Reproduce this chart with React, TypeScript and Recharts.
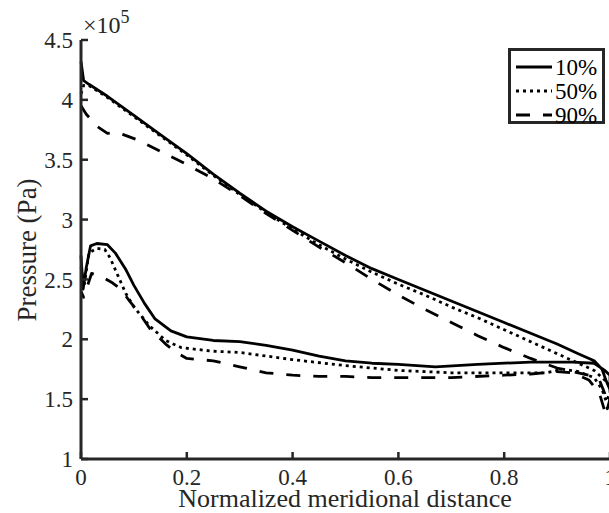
import React from 'react';
import { LineChart, Line, XAxis, YAxis } from 'recharts';

// x: normalized meridional distance, p: pressure (x10^5 Pa)
const xDomain = [0, 1];
const yDomain = [1, 4.5];
const xTicks = [0, 0.2, 0.4, 0.6, 0.8, 1];
const yTicks = [1, 1.5, 2, 2.5, 3, 3.5, 4, 4.5];
const seriesNames = ['10%', '50%', '90%'];

const upper10: [number, number][] = [
  [0, 4.32], [0.005, 4.16], [0.015, 4.13], [0.05, 4.03], [0.1, 3.87], [0.15, 3.71],
  [0.2, 3.55], [0.25, 3.38], [0.3, 3.22], [0.35, 3.07], [0.4, 2.94], [0.45, 2.82],
  [0.5, 2.7], [0.55, 2.59], [0.6, 2.5], [0.65, 2.41], [0.7, 2.32], [0.75, 2.23],
  [0.8, 2.14], [0.85, 2.05], [0.9, 1.96], [0.94, 1.88], [0.97, 1.82], [0.985, 1.75],
  [0.993, 1.65], [1.0, 1.58],
];
const lower10: [number, number][] = [
  [0, 2.7], [0.004, 2.42], [0.01, 2.6], [0.018, 2.78], [0.03, 2.8], [0.05, 2.79],
  [0.065, 2.72], [0.085, 2.58], [0.1, 2.45], [0.12, 2.3], [0.14, 2.17], [0.17, 2.07],
  [0.2, 2.02], [0.25, 1.99], [0.3, 1.98], [0.35, 1.95], [0.4, 1.91], [0.45, 1.86],
  [0.5, 1.82], [0.55, 1.8], [0.6, 1.79], [0.67, 1.77], [0.75, 1.79], [0.85, 1.81],
  [0.93, 1.81], [0.97, 1.8], [0.99, 1.74], [1.0, 1.7],
];
const upper50: [number, number][] = [
  [0, 4.05], [0.005, 4.12], [0.015, 4.12], [0.05, 4.02], [0.1, 3.86], [0.15, 3.7],
  [0.2, 3.54], [0.25, 3.37], [0.3, 3.21], [0.35, 3.06], [0.4, 2.92], [0.45, 2.79],
  [0.5, 2.67], [0.55, 2.56], [0.6, 2.46], [0.65, 2.37], [0.7, 2.27], [0.75, 2.18],
  [0.8, 2.08], [0.85, 1.98], [0.9, 1.88], [0.94, 1.8], [0.97, 1.74], [0.985, 1.68],
  [1.0, 1.62],
];
const lower50: [number, number][] = [
  [0, 2.6], [0.006, 2.45], [0.015, 2.72], [0.03, 2.76], [0.045, 2.75], [0.055, 2.68],
  [0.07, 2.53], [0.085, 2.38], [0.1, 2.27], [0.13, 2.11], [0.16, 1.99], [0.19, 1.93],
  [0.25, 1.9], [0.3, 1.89], [0.35, 1.86], [0.4, 1.83], [0.5, 1.78], [0.6, 1.74],
  [0.7, 1.72], [0.8, 1.72], [0.88, 1.72], [0.91, 1.75], [0.94, 1.73], [0.97, 1.68],
  [0.985, 1.58], [0.993, 1.48], [1.0, 1.55],
];
const upper90: [number, number][] = [
  [0, 3.95], [0.01, 3.88], [0.03, 3.78], [0.05, 3.72], [0.065, 3.73], [0.08, 3.71],
  [0.11, 3.66], [0.15, 3.57], [0.2, 3.46], [0.25, 3.34], [0.3, 3.2], [0.35, 3.05],
  [0.4, 2.91], [0.45, 2.77], [0.5, 2.64], [0.55, 2.5], [0.6, 2.37], [0.65, 2.25],
  [0.7, 2.14], [0.75, 2.03], [0.8, 1.93], [0.85, 1.84], [0.9, 1.76], [0.93, 1.73],
  [0.96, 1.7], [0.98, 1.66], [0.99, 1.55], [0.995, 1.42], [1.0, 1.5],
];
const lower90: [number, number][] = [
  [0, 2.4], [0.005, 2.35], [0.02, 2.55], [0.04, 2.52], [0.06, 2.47], [0.075, 2.42],
  [0.09, 2.33], [0.11, 2.22], [0.13, 2.09], [0.16, 1.96], [0.18, 1.89], [0.2, 1.84],
  [0.25, 1.82], [0.3, 1.77], [0.35, 1.72], [0.4, 1.7], [0.45, 1.69], [0.5, 1.69],
  [0.55, 1.68], [0.6, 1.68], [0.7, 1.68], [0.8, 1.7], [0.85, 1.71], [0.9, 1.73],
  [0.93, 1.72], [0.96, 1.66], [0.98, 1.55], [0.99, 1.4], [1.0, 1.5],
];

const loop = (up: [number, number][], low: [number, number][]) =>
  [...up, ...[...low].reverse()].map(([x, p]) => ({ x, p }));

const series = [
  { name: seriesNames[0], data: loop(upper10, lower10), dash: undefined as string | undefined },
  { name: seriesNames[1], data: loop(upper50, lower50), dash: '3 4' },
  { name: seriesNames[2], data: loop(upper90, lower90), dash: '14 13' },
];

const AX = '#262626';
const FONT = 'Liberation Serif, Times New Roman, Times, serif';
const tickFont = { fill: AX, fontSize: 23, fontFamily: FONT };
const axisLineStyle = { stroke: AX, strokeWidth: 3 };
const tickLineStyle = { stroke: AX, strokeWidth: 2.5 };

export default function App() {
  return (
    <div
      style={{
        position: 'fixed',
        left: 0,
        top: 0,
        width: 609,
        height: 513,
        overflow: 'hidden',
        background: '#fff',
        fontFamily: FONT,
      }}
    >
      <LineChart width={640} height={513} margin={{ top: 40, right: 30, bottom: 24, left: 20 }}>
        <XAxis
          xAxisId="b"
          dataKey="x"
          type="number"
          domain={xDomain}
          ticks={xTicks}
          tick={tickFont}
          stroke={AX}
          axisLine={axisLineStyle}
          tickLine={tickLineStyle}
          tickSize={-7}
          tickMargin={17}
          height={30}
        />
        <XAxis
          xAxisId="t"
          orientation="top"
          dataKey="x"
          type="number"
          domain={xDomain}
          ticks={xTicks}
          tick={false}
          stroke={AX}
          axisLine={axisLineStyle}
          tickLine={tickLineStyle}
          tickSize={-7}
          height={0}
        />
        <YAxis
          yAxisId="l"
          dataKey="p"
          type="number"
          domain={yDomain}
          ticks={yTicks}
          tick={tickFont}
          stroke={AX}
          axisLine={axisLineStyle}
          tickLine={tickLineStyle}
          tickSize={-7}
          tickMargin={15}
          width={61}
        />
        <YAxis
          yAxisId="r"
          orientation="right"
          dataKey="p"
          type="number"
          domain={yDomain}
          ticks={yTicks}
          tick={false}
          stroke={AX}
          axisLine={axisLineStyle}
          tickLine={tickLineStyle}
          tickSize={-7}
          width={0}
        />
        {series.map((s) => (
          <Line
            key={s.name}
            xAxisId="b"
            yAxisId="l"
            data={s.data}
            dataKey="p"
            name={s.name}
            type="linear"
            stroke="#000"
            strokeWidth={2.8}
            strokeDasharray={s.dash}
            strokeLinejoin="round"
            dot={false}
            activeDot={false}
            isAnimationActive={false}
          />
        ))}
      </LineChart>
      <svg
        width={609}
        height={513}
        style={{ position: 'absolute', left: 0, top: 0, pointerEvents: 'none', fontFamily: FONT }}
      >
        <g>
          <rect x={509.5} y={49.5} width={94} height={73} fill="#fff" stroke={AX} strokeWidth={3} />
          {series.map((s, i) => (
            <g key={s.name}>
              <line
                x1={516}
                x2={552}
                y1={67 + i * 24}
                y2={67 + i * 24}
                stroke="#000"
                strokeWidth={3}
                strokeDasharray={s.dash}
              />
              <text x={555} y={75 + i * 24} fontSize={23} fill="#000">
                {s.name}
              </text>
            </g>
          ))}
        </g>
        <text x={83} y={33} fontSize={24} fill={AX}>
          ×10
          <tspan dy={-10} fontSize={18}>5</tspan>
        </text>
        <text x={345} y={507} textAnchor="middle" fontSize={26} fill={AX}>
          Normalized meridional distance
        </text>
        <text transform="translate(36,250) rotate(-90)" textAnchor="middle" fontSize={27} fill={AX}>
          Pressure (Pa)
        </text>
      </svg>
    </div>
  );
}
